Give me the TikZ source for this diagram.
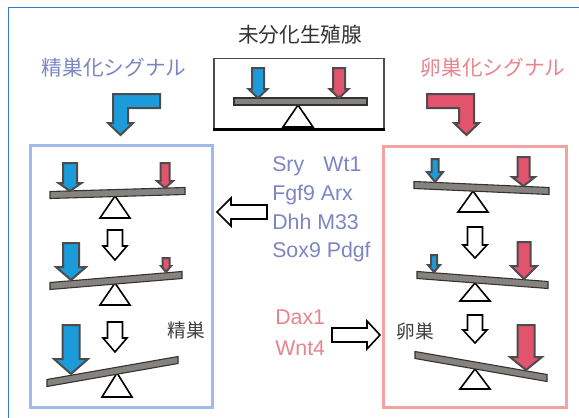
\documentclass[tikz,border=0pt]{standalone}
\usepackage{fontspec}
\setmainfont{Liberation Sans}
\newfontfamily\jpfont{Noto Sans CJK JP}
\definecolor{framebl}{HTML}{2F7DC6}
\definecolor{maleblue}{HTML}{1C9BDA}
\definecolor{femred}{HTML}{E2536E}
\definecolor{maletxt}{HTML}{7C86C2}
\definecolor{femtxt}{HTML}{E8848C}
\definecolor{malebox}{HTML}{A0BCE6}
\definecolor{fembox}{HTML}{F4A3A5}
\definecolor{beamgray}{HTML}{86827E}
\tikzset{
  px/.style={line width=#1*0.75pt},
  outerframe/.style={draw=framebl, px=1.6},
  bluefat/.style={fill=maleblue, draw=black!70, px=2, line join=miter},
  redfat/.style={fill=femred, draw=black!70, px=2, line join=miter},
  hollow/.style={fill=white, draw=black, px=1.6, line join=miter},
  beamst/.style={fill=beamgray, draw=black!80, px=1.1},
  fulc/.style={fill=white, draw=black, px=1.6, line join=miter},
  jplabel/.style={font=\jpfont\fontsize{15.5}{18}\selectfont, inner sep=0pt},
  genelabel/.style={font=\fontsize{16}{18}\selectfont, inner sep=0pt, anchor=base west},
}
% vertical fat arrow: x, top, head start, tip, shaft half width, head half width, style
\newcommand{\fatarrow}[7]{%
  \filldraw[#7] (#1-#5,#2) -- (#1+#5,#2) -- (#1+#5,#3) -- (#1+#6,#3) -- (#1,#4)
    -- (#1-#6,#3) -- (#1-#5,#3) -- cycle;}
% seesaw beam between two centre points
\newcommand{\beam}[4]{%
  \filldraw[beamst] (#1,#2-3.5) -- (#3,#4-3.5) -- (#3,#4+3.5) -- (#1,#2+3.5) -- cycle;}
% fulcrum triangle: apex x, apex y, base y
\newcommand{\fulcrum}[3]{%
  \filldraw[fulc] (#1,#2) -- (#1+15,#3) -- (#1-15,#3) -- cycle;}
\begin{document}
\begin{tikzpicture}[x=0.75pt, y=-0.75pt]
\useasboundingbox (0,0) rectangle (579,418);
\fill[white] (0,0) rectangle (579,418);
\draw[outerframe] (579,7.5) -- (8.5,7.5) -- (8.5,418);

% headings
\node[jplabel, text=black!80] (undiff) at (300,35) {未分化生殖腺};
\node[jplabel, text=maletxt] (sigM) at (114,68) {精巣化シグナル};
\node[jplabel, text=femtxt] (sigF) at (493,68) {卵巣化シグナル};

% indifferent gonad box
\draw[draw=black!70, px=1.4] (214,130) -- (214,58.5) -- (384,58.5) -- (384,130);
\draw[draw=black, px=2.2] (213,129.5) -- (385,129.5);
\fulcrum{298}{105}{127}
\beam{234}{101.5}{367}{101.5}
\fatarrow{258}{68}{89}{98}{6}{9.5}{bluefat}
\fatarrow{339}{68}{89}{98}{6}{9.5}{redfat}

% bent signal arrows
\filldraw[bluefat] (160,94) -- (113,94) -- (113,123) -- (108,123) -- (120.5,135)
  -- (133,123) -- (128,123) -- (128,108) -- (160,108) -- cycle;
\filldraw[redfat] (427,94) -- (474,94) -- (474,123) -- (479,123) -- (466.5,135)
  -- (454,123) -- (459,123) -- (459,108) -- (427,108) -- cycle;

% testis pathway box
\draw[draw=malebox, px=3] (30.5,145.5) rectangle (212.5,407.5);
\fulcrum{115}{196}{218}
\beam{50}{195}{185}{191}
\fatarrow{70}{163}{183}{191}{7}{11.5}{bluefat}
\fatarrow{165}{163}{181}{188}{4.5}{8}{redfat}
\fatarrow{115}{230}{246}{260}{7.5}{12}{hollow}
\fulcrum{115}{283}{305}
\beam{50}{286}{182}{275}
\fatarrow{71}{243}{267}{280}{8}{15}{bluefat}
\fatarrow{166}{258}{266}{272}{3.5}{5}{redfat}
\fatarrow{115}{322}{338}{352}{7.5}{12}{hollow}
\fulcrum{117}{373}{397}
\beam{47}{383}{178}{360}
\fatarrow{71}{325}{359}{374}{8.5}{17}{bluefat}
\node[jplabel, font=\jpfont\fontsize{14}{16}\selectfont, text=black!75] (testis) at (186,330) {精巣};

% ovary pathway box
\draw[draw=fembox, px=3] (383.5,146.5) rectangle (566.5,407.5);
\fulcrum{473}{191}{212}
\beam{414}{185}{549}{191}
\fatarrow{435}{159}{172}{182}{3.5}{8}{bluefat}
\fatarrow{523.5}{157}{177}{186}{6}{11.5}{redfat}
\fatarrow{475}{227}{245}{258}{7.5}{12}{hollow}
\fulcrum{475}{283}{301}
\beam{417}{275}{548}{285}
\fatarrow{434}{255}{265}{272}{3}{6}{bluefat}
\fatarrow{524}{242}{266}{279}{6.5}{13}{redfat}
\fatarrow{475}{315}{330}{343}{7.5}{12}{hollow}
\fulcrum{475}{369}{389}
\beam{415}{355}{547}{378}
\fatarrow{526}{325}{357}{370}{8.5}{16}{redfat}
\node[jplabel, font=\jpfont\fontsize{14}{16}\selectfont, text=black!75] (ovary) at (415,331) {卵巣};

% male-determining genes
\node[genelabel, text=maletxt] (g1) at (272,171.5) {Sry\hspace{0.9em}Wt1};
\node[genelabel, text=maletxt] (g2) at (272,200.5) {Fgf9 Arx};
\node[genelabel, text=maletxt] (g3) at (272,229.5) {Dhh M33};
\node[genelabel, text=maletxt] (g4) at (272,257.5) {Sox9 Pdgf};
\filldraw[hollow] (267,205) -- (231,205) -- (231,198) -- (217,212) -- (231,226)
  -- (231,219) -- (267,219) -- cycle;

% female-determining genes
\node[genelabel, text=femtxt] (f1) at (275,324.5) {Dax1};
\node[genelabel, text=femtxt] (f2) at (275,355.5) {Wnt4};
\filldraw[hollow] (332,328) -- (367,328) -- (367,321) -- (380,335) -- (367,349)
  -- (367,342) -- (332,342) -- cycle;
\end{tikzpicture}
\end{document}
